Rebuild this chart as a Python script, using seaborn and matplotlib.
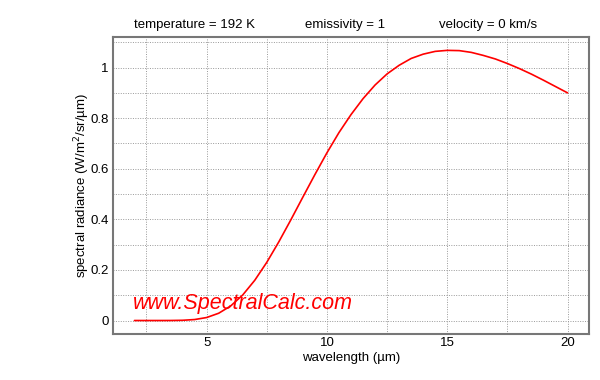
import matplotlib
matplotlib.use("Agg")
import matplotlib.pyplot as plt
import seaborn as sns
from matplotlib.ticker import MultipleLocator
import pandas as pd

# values (T = 192 K blackbody)
wavelength = [2, 2.5, 3, 3.5, 4, 4.5, 5, 5.5, 6, 6.5, 7, 7.5, 8, 8.5, 9, 9.5,
              10, 10.5, 11, 11.5, 12, 12.5, 13, 13.5, 14, 14.5, 15, 15.5, 16,
              16.5, 17, 17.5, 18, 18.5, 19, 19.5, 20]
radiance = [0.0, 0.0, 0.0, 0.0001, 0.0009, 0.0038, 0.0118, 0.0287, 0.0576,
            0.101, 0.159, 0.230, 0.311, 0.398, 0.488, 0.577, 0.663, 0.743,
            0.814, 0.877, 0.931, 0.975, 1.009, 1.036, 1.053, 1.064, 1.068,
            1.067, 1.060, 1.048, 1.034, 1.016, 0.996, 0.974, 0.950, 0.925, 0.900]
header = ["temperature = 192 K", "emissivity = 1", "velocity = 0 km/s"]

sns.set_style("white")
plt.rcParams['font.family'] = ['Liberation Sans', 'DejaVu Sans']
plt.rcParams['text.color'] = 'black'
plt.rcParams['axes.labelcolor'] = 'black'
plt.rcParams['xtick.color'] = 'black'
plt.rcParams['ytick.color'] = 'black'

df = pd.DataFrame({"wavelength": wavelength, "radiance": radiance})

fig, ax = plt.subplots(figsize=(6, 3.8), dpi=100)
fig.subplots_adjust(left=0.188, right=0.982, top=0.903, bottom=0.121)

sns.lineplot(data=df, x="wavelength", y="radiance", color="#ff0000", lw=1.2, ax=ax)
ax.margins(x=0.05, y=0.05)

ax.xaxis.set_major_locator(MultipleLocator(5))
ax.xaxis.set_minor_locator(MultipleLocator(2.5))
ax.yaxis.set_minor_locator(MultipleLocator(0.1))
ax.set_yticks([0, 0.2, 0.4, 0.6, 0.8, 1.0])
ax.set_yticklabels(["0", "0.2", "0.4", "0.6", "0.8", "1"])
ax.grid(True, which="both", color="#999999", ls=(0, (1, 1.5)), lw=0.7)
ax.tick_params(which="both", length=0, labelsize=9.5)
ax.tick_params(axis="x", pad=2)
ax.tick_params(axis="y", pad=3)

for s in ax.spines.values():
    s.set_color("#777777")
    s.set_linewidth(1.5)

ax.set_xlabel("wavelength (µm)", fontsize=9.5, labelpad=2)
ax.set_ylabel("spectral radiance (W/m$^2$/sr/µm)", fontsize=9.5, labelpad=-1)

ax.text(0.042, 0.104, "www.SpectralCalc.com", transform=ax.transAxes,
        color="#ff0000", fontsize=15.5, style="italic", va="center", ha="left")

for xpos, txt in zip([0.325, 0.575, 0.813], header):
    fig.text(xpos, 0.935, txt, ha="center", va="center", fontsize=9.5)

plt.savefig("out.png", dpi=100)
